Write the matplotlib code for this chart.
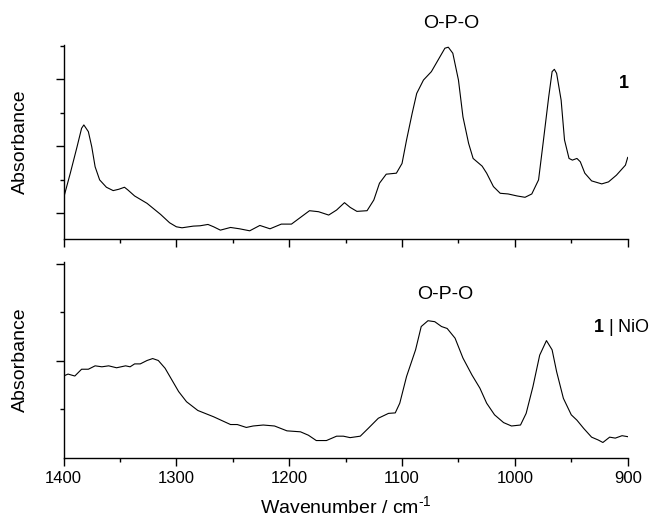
import matplotlib.pyplot as plt
from matplotlib.ticker import MultipleLocator

plt.rcParams["font.family"] = ["Liberation Sans", "DejaVu Sans"]
plt.rcParams["mathtext.fontset"] = "custom"
plt.rcParams["mathtext.rm"] = "Liberation Sans"
plt.rcParams["mathtext.bf"] = "Liberation Sans:bold"

# IR spectrum of compound 1 (top)
top_wn = [1400, 1394, 1388, 1384, 1382, 1378, 1375, 1372, 1368, 1362,
          1356, 1351, 1346, 1343, 1337, 1326, 1314, 1306, 1300, 1295,
          1285, 1279, 1272, 1267, 1261, 1252, 1244, 1235, 1226, 1217,
          1207, 1198, 1190, 1182, 1174, 1165, 1158, 1151, 1146, 1140,
          1131, 1125, 1120, 1114, 1105, 1100, 1096, 1091, 1087, 1081,
          1074, 1068, 1062, 1059, 1055, 1050, 1046, 1041, 1037, 1029,
          1025, 1019, 1013, 1006, 998, 991, 985, 979, 975, 970,
          967, 965, 963, 959, 956, 952, 949, 945, 942, 938,
          932, 923, 917, 910, 902, 900]
top_abs = [0.144, 0.219, 0.298, 0.353, 0.363, 0.343, 0.298, 0.238, 0.199, 0.177,
           0.167, 0.171, 0.177, 0.169, 0.151, 0.129, 0.096, 0.071, 0.059, 0.056,
           0.061, 0.062, 0.066, 0.059, 0.049, 0.057, 0.053, 0.047, 0.063, 0.053,
           0.067, 0.067, 0.087, 0.107, 0.104, 0.094, 0.109, 0.131, 0.117, 0.105,
           0.107, 0.139, 0.189, 0.216, 0.219, 0.248, 0.318, 0.398, 0.457, 0.497,
           0.522, 0.557, 0.592, 0.595, 0.577, 0.497, 0.387, 0.308, 0.263, 0.240,
           0.219, 0.179, 0.159, 0.157, 0.151, 0.147, 0.157, 0.199, 0.308, 0.447,
           0.522, 0.529, 0.517, 0.437, 0.318, 0.263, 0.258, 0.263, 0.253, 0.219,
           0.196, 0.187, 0.193, 0.213, 0.243, 0.266]

# IR spectrum of 1 on NiO (bottom)
bot_wn = [1400, 1396, 1390, 1384, 1378, 1372, 1366, 1360, 1353, 1345,
          1341, 1337, 1332, 1326, 1321, 1316, 1310, 1304, 1298, 1291,
          1281, 1267, 1252, 1246, 1238, 1232, 1223, 1213, 1202, 1190,
          1183, 1176, 1167, 1158, 1152, 1146, 1137, 1130, 1121, 1112,
          1106, 1102, 1096, 1088, 1083, 1077, 1071, 1065, 1060, 1053,
          1046, 1038, 1031, 1025, 1018, 1010, 1003, 995, 990, 984,
          978, 972, 967, 963, 957, 950, 945, 939, 932, 926,
          922, 916, 911, 905, 900]
bot_abs = [0.169, 0.173, 0.169, 0.183, 0.183, 0.190, 0.188, 0.190, 0.186, 0.190,
           0.188, 0.194, 0.194, 0.201, 0.205, 0.201, 0.185, 0.161, 0.137, 0.116,
           0.098, 0.085, 0.069, 0.069, 0.063, 0.066, 0.068, 0.066, 0.056, 0.054,
           0.047, 0.036, 0.036, 0.045, 0.045, 0.042, 0.045, 0.061, 0.082, 0.092,
           0.093, 0.113, 0.168, 0.223, 0.271, 0.283, 0.281, 0.271, 0.267, 0.247,
           0.206, 0.171, 0.144, 0.113, 0.089, 0.073, 0.066, 0.068, 0.092, 0.147,
           0.212, 0.242, 0.223, 0.178, 0.123, 0.089, 0.078, 0.061, 0.043, 0.037,
           0.032, 0.043, 0.041, 0.046, 0.044]


def style_axis(ax):
    ax.spines["top"].set_visible(False)
    ax.spines["right"].set_visible(False)
    for side in ("left", "bottom"):
        ax.spines[side].set_linewidth(1.0)
    ax.set_xlim(1400, 900)
    ax.xaxis.set_major_locator(MultipleLocator(100))
    ax.xaxis.set_minor_locator(MultipleLocator(50))
    ax.tick_params(which="major", direction="out", length=5.5, width=1.0,
                   labelsize=12)
    ax.tick_params(which="minor", direction="out", length=3, width=1.0)
    ax.set_ylabel("Absorbance", fontsize=14)
    ax.yaxis.set_label_coords(-0.062, 0.5)


fig = plt.figure(figsize=(6.57, 5.21), dpi=100)
ax1 = fig.add_axes([0.0967, 0.5422, 0.8587, 0.3714])
ax2 = fig.add_axes([0.0967, 0.1209, 0.8587, 0.3762])

ax1.plot(top_wn, top_abs, color="black", linewidth=0.8)
style_axis(ax1)
ax1.set_ylim(0.024, 0.6015)
ax1.set_yticks([0.1, 0.3, 0.5])
ax1.set_yticks([0.2, 0.4, 0.6], minor=True)
ax1.set_yticklabels([])
ax1.set_xticklabels([])
ax1.text(1056, 0.667, "O-P-O", fontsize=14, ha="center", va="center",
         clip_on=False)
ax1.text(903, 0.488, "1", fontsize=13, fontweight="bold", ha="center",
         va="center")

ax2.plot(bot_wn, bot_abs, color="black", linewidth=0.8)
style_axis(ax2)
ax2.set_ylim(0, 0.404)
ax2.set_yticks([0.2, 0.4])
ax2.set_yticks([0.1, 0.3], minor=True)
ax2.set_yticklabels([])
ax2.text(1062, 0.337, "O-P-O", fontsize=14, ha="center", va="center")
ax2.text(931, 0.27, r"$\mathbf{1}$ | NiO", fontsize=13, ha="left",
         va="center", clip_on=False)
ax2.set_xlabel(r"Wavenumber / cm$^{\text{-1}}$", fontsize=14, labelpad=7)

fig.savefig("out.png", dpi=100)
